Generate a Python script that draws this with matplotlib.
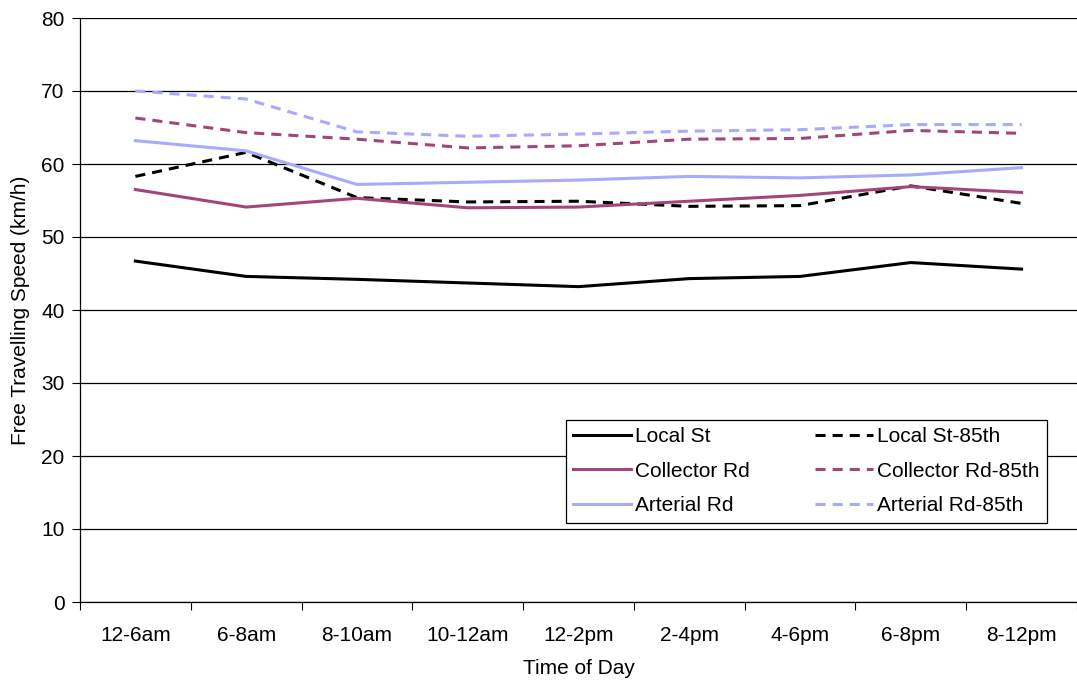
import numpy as np
import matplotlib
matplotlib.use("Agg")
from matplotlib import pyplot as plt

plt.rcParams['font.family'] = ['Liberation Sans', 'DejaVu Sans']

periods = ["12-6am", "6-8am", "8-10am", "10-12am", "12-2pm", "2-4pm", "4-6pm", "6-8pm", "8-12pm"]

local_st = [46.7, 44.6, 44.2, 43.7, 43.2, 44.3, 44.6, 46.5, 45.6]
local_st_85 = [58.3, 61.6, 55.4, 54.8, 54.9, 54.2, 54.3, 57.0, 54.6]
collector_rd = [56.5, 54.1, 55.3, 54.0, 54.1, 54.9, 55.7, 56.9, 56.1]
collector_rd_85 = [66.3, 64.3, 63.4, 62.2, 62.5, 63.4, 63.5, 64.6, 64.2]
arterial_rd = [63.2, 61.8, 57.2, 57.5, 57.8, 58.3, 58.1, 58.5, 59.5]
arterial_rd_85 = [70.0, 68.9, 64.4, 63.8, 64.1, 64.5, 64.7, 65.4, 65.4]

col_local = "#000000"
col_collector = "#A4457A"
col_arterial = "#A9A9FF"

fig = plt.figure(figsize=(10.77, 6.84), dpi=100)
ax = fig.add_axes([80 / 1077, 1 - 602 / 684, 997 / 1077, 584 / 684])

x = np.arange(len(periods))
lw = 2.2
dash = (0, (3.3, 2.3))

ax.plot(x, local_st, color=col_local, lw=lw, label="Local St")
ax.plot(x, local_st_85, color=col_local, lw=lw, ls=dash, label="Local St-85th")
ax.plot(x, collector_rd, color=col_collector, lw=lw, label="Collector Rd")
ax.plot(x, collector_rd_85, color=col_collector, lw=lw, ls=dash, label="Collector Rd-85th")
ax.plot(x, arterial_rd, color=col_arterial, lw=lw, label="Arterial Rd")
ax.plot(x, arterial_rd_85, color=col_arterial, lw=lw, ls=dash, label="Arterial Rd-85th")

ax.set_xlim(-0.5, len(periods) - 0.5)
ax.set_ylim(0, 80)
ax.set_yticks(np.arange(0, 81, 10))
ax.yaxis.grid(True, color="black", lw=0.9)
ax.set_axisbelow(True)

# ticks sit between categories, labels centred under each category
ax.set_xticks(np.arange(-0.5, len(periods), 1))
ax.set_xticklabels([])
ax.set_xticks(x, minor=True)
ax.set_xticklabels(periods, minor=True)
ax.tick_params(axis="x", which="major", length=6, width=0.8, direction="out")
ax.tick_params(axis="x", which="minor", length=0, pad=17, labelsize=15)
ax.tick_params(axis="y", length=6, width=0.8, direction="out", labelsize=15, pad=5)

for side in ["top", "right"]:
    ax.spines[side].set_visible(False)
ax.spines["left"].set_linewidth(0.9)
ax.spines["bottom"].set_linewidth(0.9)

ax.set_xlabel("Time of Day", fontsize=15, labelpad=10)
ax.set_ylabel("Free Travelling Speed (km/h)", fontsize=15, labelpad=8)

handles, labels = ax.get_legend_handles_labels()
order = [0, 2, 4, 1, 3, 5]
leg = ax.legend([handles[i] for i in order], [labels[i] for i in order],
                ncol=2, loc="upper left", bbox_to_anchor=(0.487, 0.312),
                fontsize=15, frameon=True, fancybox=False, framealpha=1,
                edgecolor="black", handlelength=2.8, handletextpad=0.2,
                columnspacing=3.1, labelspacing=0.75, borderpad=0.35,
                borderaxespad=0)
leg.get_frame().set_linewidth(0.9)

fig.savefig("out.png", dpi=100)
